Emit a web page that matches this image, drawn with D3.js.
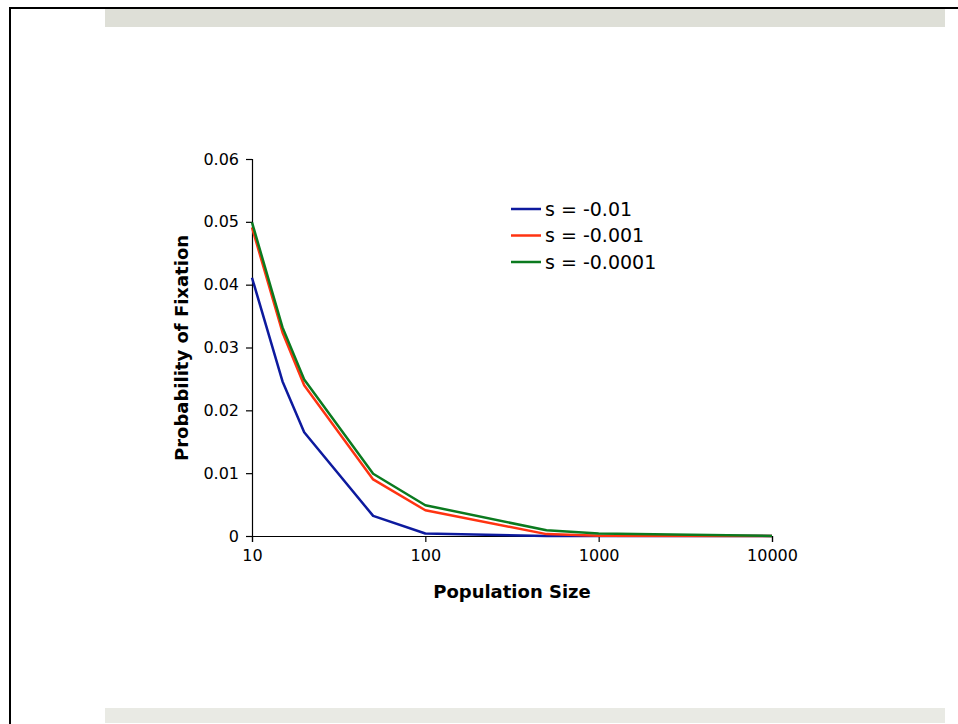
<!DOCTYPE html>
<html>
<head>
<meta charset="utf-8">
<script src="https://cdn.jsdelivr.net/npm/d3@7"></script>
<style>
  body { margin: 0; background: #fff; }
  svg { display: block; font-family: "DejaVu Sans", Verdana, sans-serif; }
</style>
</head>
<body>
<script>
/* Data */
const popSizes = [10, 15, 20, 50, 100, 500, 1000, 10000];
const seriesNames = ["s = -0.01", "s = -0.001", "s = -0.0001"];
const sMinus01 = [0.0411, 0.0246, 0.0165, 0.0032, 0.0004, 0, 0, 0];
const sMinus001 = [0.0491, 0.0324, 0.0240, 0.0090, 0.0041, 0.0003, 0.00004, 0];
const sMinus0001 = [0.0499, 0.0332, 0.0249, 0.0099, 0.0049, 0.0009, 0.0004, 0.000004];
const xTicks = [10, 100, 1000, 10000];
const yTicks = [0, 0.01, 0.02, 0.03, 0.04, 0.05, 0.06];
const colors = ["#0d1a9e", "#ff3311", "#0b7a1f"];

/* Constants */
const W = 958, H = 724;
const X0 = 252, X1 = 772, Y0 = 536, Y1 = 159;

const svg = d3.select("body").append("svg")
  .attr("width", W)
  .attr("height", H);

/* Frame and bands */
svg.append("rect").attr("x", 105).attr("y", 9).attr("width", 840).attr("height", 18).attr("fill", "#dedfd7");
svg.append("rect").attr("x", 105).attr("y", 708).attr("width", 840).attr("height", 15).attr("fill", "#e9eae4");
svg.append("line").attr("x1", 9).attr("x2", W).attr("y1", 8).attr("y2", 8)
  .attr("stroke", "#000").attr("stroke-width", 2);
svg.append("line").attr("x1", 10).attr("x2", 10).attr("y1", 7).attr("y2", H)
  .attr("stroke", "#000").attr("stroke-width", 2);

/* Scales */
const x = d3.scaleLog().domain([10, 10000]).range([X0, X1]);
const y = d3.scaleLinear().domain([0, 0.06]).range([Y0, Y1]);

/* Axes */
const xAxis = d3.axisBottom(x).tickValues(xTicks).tickFormat(d3.format("d")).tickSizeOuter(0).tickSize(6).tickPadding(8);
const yAxis = d3.axisLeft(y).tickValues(yTicks).tickFormat(d => d === 0 ? "0" : d3.format(".2f")(d)).tickSizeOuter(0).tickSize(6).tickPadding(7);

const gx = svg.append("g").attr("transform", "translate(0," + Y0 + ")").call(xAxis);
const gy = svg.append("g").attr("transform", "translate(" + X0 + ",0)").call(yAxis);

[gx, gy].forEach(g => {
  g.selectAll("path, line").attr("stroke", "#000").attr("stroke-width", 1.2);
  g.selectAll("text").attr("fill", "#000").style("font-size", "16px").style("font-family", "DejaVu Sans, Verdana, sans-serif");
});

/* Axis titles */
svg.append("text")
  .attr("x", 512)
  .attr("y", 598)
  .attr("text-anchor", "middle")
  .style("font-size", "18px")
  .style("font-weight", "bold")
  .text("Population Size");

svg.append("text")
  .attr("transform", "translate(188,348) rotate(-90)")
  .attr("text-anchor", "middle")
  .style("font-size", "18px")
  .style("font-weight", "bold")
  .text("Probability of Fixation");

/* Lines */
const series = [sMinus01, sMinus001, sMinus0001];
const line = d3.line()
  .x((d, i) => x(popSizes[i]))
  .y(d => y(d));

series.forEach((vals, k) => {
  svg.append("path")
    .datum(vals)
    .attr("fill", "none")
    .attr("stroke", colors[k])
    .attr("stroke-width", 2.5)
    .attr("stroke-linejoin", "round")
    .attr("d", line);
});

/* Legend */
const legend = svg.append("g").attr("transform", "translate(511,209)");
seriesNames.forEach((name, k) => {
  const row = legend.append("g").attr("transform", "translate(0," + (k * 26.5) + ")");
  row.append("line")
    .attr("x1", 0).attr("x2", 30)
    .attr("stroke", colors[k]).attr("stroke-width", 2.5);
  row.append("text")
    .attr("x", 34)
    .attr("dy", "0.35em")
    .style("font-size", "19px")
    .text(name);
});
</script>
</body>
</html>
